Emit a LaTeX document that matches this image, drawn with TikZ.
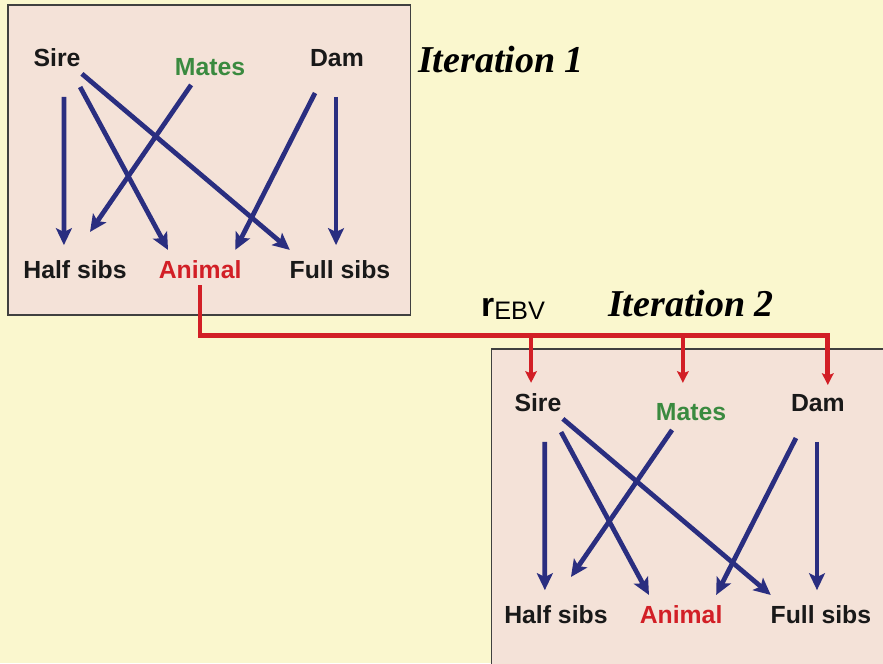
\documentclass[tikz,border=0pt]{standalone}
\usepackage{fontspec}
\setmainfont{Liberation Serif}
\setsansfont{Liberation Sans}
\usetikzlibrary{calc,arrows.meta}
\definecolor{bgyellow}{HTML}{FAF7CE}
\definecolor{panelpink}{HTML}{F4E2D8}
\definecolor{geneblue}{HTML}{2A2E80}
\definecolor{ebvred}{HTML}{D21F26}
\definecolor{mategreen}{HTML}{3A8A3F}

\begin{document}
\begin{tikzpicture}[
  panel/.style={draw=black!75, line width=1.2pt, fill=panelpink},
  kin/.style={font=\sffamily\bfseries\fontsize{23.5}{26}\selectfont,
               text=black!90, inner sep=1pt},
  gene/.style={line width=4.5pt, geneblue,
               -{Stealth[length=16pt,width=15pt,inset=3.5pt]}},
  ebv/.style={line width=4.5pt, ebvred,
               -{Stealth[length=11pt,width=11pt,inset=2pt]}},
  iter/.style={font=\rmfamily\bfseries\itshape\fontsize{36}{40}\selectfont,
               inner sep=0pt},
]

% Slide area (fixed size, yellow background).
\useasboundingbox (0,0) rectangle (29.43,-22.1);
\clip (0,0) rectangle (29.43,-22.1);
\fill[bgyellow] (0,0) rectangle (29.43,-22.1);

% The two pedigree panels (the second runs off the slide).
\draw[panel] (0.27,-0.17) rectangle (13.67,-10.5);
\draw[panel] (16.37,-11.63) rectangle (30,-23);

% Same pedigree in both panels, shifted by (\dx,\dy).
\foreach \i/\dx/\dy in {1/0/0, 2/16.03/-11.5} {
  \node[kin] (sire\i)  at ({\dx+1.9},{\dy-1.93})  {Sire};
  \node[kin, text=mategreen] (mates\i) at ({\dx+7.0},{\dy-2.23}) {Mates};
  \node[kin] (dam\i)   at ({\dx+11.23},{\dy-1.93}) {Dam};
  \node[kin] (half\i)  at ({\dx+2.5},{\dy-9.0})   {Half sibs};
  \node[kin, text=ebvred] (animal\i) at ({\dx+6.67},{\dy-9.0}) {Animal};
  \node[kin] (full\i)  at ({\dx+11.33},{\dy-9.0}) {Full sibs};

  \draw[gene] ($(sire\i)+(0.23,-1.3)$)   -- ($(half\i)+(-0.37,0.83)$);
  \draw[gene] ($(mates\i)+(-0.63,-0.6)$) -- ($(half\i)+(0.5,1.27)$);
  \draw[gene] ($(sire\i)+(0.77,-0.97)$)  -- ($(animal\i)+(-1.07,0.67)$);
  \draw[gene] ($(sire\i)+(0.83,-0.53)$)  -- ($(full\i)+(-1.67,0.67)$);
  \draw[gene] ($(dam\i)+(-0.73,-1.17)$)  -- ($(animal\i)+(1.17,0.67)$);
  \draw[gene] ($(dam\i)+(-0.03,-1.3)$)   -- ($(full\i)+(-0.13,0.83)$);
}

% Titles.
\node[iter, anchor=west] (iter1) at (13.93,-2.0) {Iteration 1};
\node[iter] (iter2) at (23.03,-10.1) {Iteration 2};
\node[font=\sffamily, inner sep=0pt] (rebv) at (17.1,-10.3)
  {{\bfseries\fontsize{32}{34}\selectfont r}\raisebox{-0.3em}{\fontsize{24}{26}\selectfont EBV}};

% EBV of the animal passed on to the next iteration.
\coordinate (bus) at ($(animal1)+(0,-2.17)$);
\coordinate (tipS) at ($(sire2)+(-0.23,0.67)$);
\coordinate (tipM) at ($(mates2)+(-0.27,0.97)$);
\coordinate (tipD) at ($(dam2)+(0.33,0.6)$);
\draw[ebv] ($(animal1)+(0,-0.5)$) |- (tipD |- bus) -- (tipD);
\draw[ebv] (tipS |- bus) -- (tipS);
\draw[ebv] (tipM |- bus) -- (tipM);

\end{tikzpicture}
\end{document}
